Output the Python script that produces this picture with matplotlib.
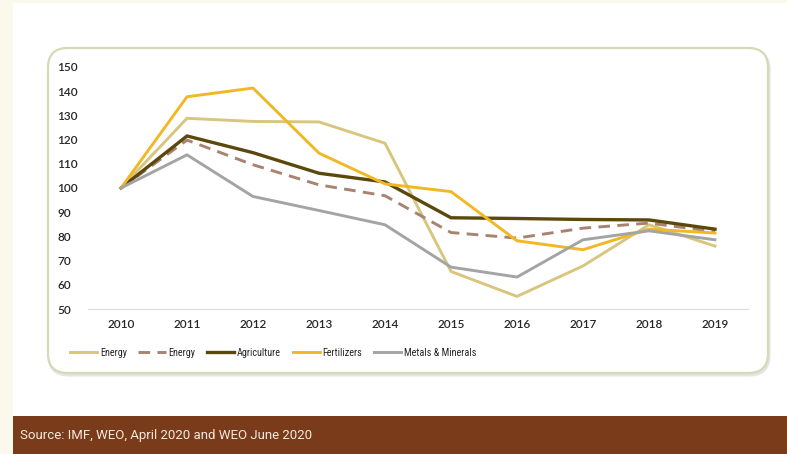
import matplotlib.pyplot as plt
from matplotlib.patches import FancyBboxPatch, Rectangle

years = [2010, 2011, 2012, 2013, 2014, 2015, 2016, 2017, 2018, 2019]
energy_a = [100, 128.8, 127.5, 127.3, 118.5, 65.5, 55.2, 67.8, 84.8, 76]
energy_b = [100, 119.8, 109.6, 101.3, 96.8, 81.6, 79.3, 83.4, 85.5, 82]
agriculture = [100, 121.5, 114.6, 106.1, 102.5, 87.7, 87.4, 87, 86.8, 83]
fertilizers = [100, 137.7, 141.3, 114.4, 101.7, 98.5, 78.2, 74.5, 83, 81.4]
metals = [100, 113.7, 96.5, 90.7, 84.8, 67.3, 63.2, 78.6, 82.3, 78.6]
yticks = [50, 60, 70, 80, 90, 100, 110, 120, 130, 140, 150]

W, H = 787, 454
fig = plt.figure(figsize=(W / 100, H / 100), dpi=100, facecolor="#fbf8ec")

def px(x, y, w, h):
    # pixel box (top-left origin) -> figure fraction
    return (x / W, 1 - (y + h) / H, w / W, h / H)

# white card, brown footer
fig.patches.append(Rectangle(px(13, 3, 774, 414)[:2], 774 / W, 414 / H,
                             transform=fig.transFigure, facecolor="white",
                             edgecolor="none", zorder=-3))
fig.patches.append(Rectangle(px(13, 416, 774, 38)[:2], 774 / W, 38 / H,
                             transform=fig.transFigure, facecolor="#7a3b1a",
                             edgecolor="none", zorder=-3))
fig.text(20 / W, 1 - 436 / H, "Source: IMF, WEO, April 2020 and WEO June 2020",
         color="#f3e9df", fontsize=9.5, family=["Roboto", "DejaVu Sans"],
         va="center", ha="left")

# rounded frame around the chart, with a faint drop shadow
for dx, dy, ec, lw_, z in [(1, 2, "#e4e4e0", 2.2, -2.5), (0, 0, "#d6d9b8", 1.6, -2)]:
    bx, by, bw, bh = px(48 + dx, 48 + dy, 720, 325)
    fig.patches.append(FancyBboxPatch((bx, by), bw, bh,
                                      boxstyle="round,pad=0,rounding_size=0.025",
                                      transform=fig.transFigure, facecolor="white",
                                      edgecolor=ec, linewidth=lw_, zorder=z,
                                      mutation_aspect=W / H))

ax = fig.add_axes(px(88, 67, 660, 242))
ax.set_facecolor("none")

lw = 2.1
ax.plot(years, energy_a, color="#d8c67f", lw=lw, label="Energy")
ax.plot(years, energy_b, color="#a98371", lw=lw, ls=(0, (4, 2.5)), label="Energy")
ax.plot(years, agriculture, color="#5b480c", lw=lw + 0.3, label="Agriculture")
ax.plot(years, fertilizers, color="#f1b826", lw=lw, label="Fertilizers")
ax.plot(years, metals, color="#a4a4a4", lw=lw, label="Metals & Minerals")

ax.set_xlim(2009.5, 2019.5)
ax.set_ylim(50, 150)
ax.set_xticks(years)
ax.set_yticks(yticks)
for s in ["top", "right", "left"]:
    ax.spines[s].set_visible(False)
ax.spines["bottom"].set_color("#dcdcdc")
ax.spines["bottom"].set_linewidth(0.8)
ax.tick_params(length=0, labelsize=8.5, labelcolor="#262626")
ax.tick_params(axis="y", pad=22)
ax.tick_params(axis="x", pad=7)
for t in ax.get_yticklabels() + ax.get_xticklabels():
    t.set_family(["Lato", "DejaVu Sans"])
    t.set_fontweight("semibold")
for t in ax.get_yticklabels():
    t.set_horizontalalignment("left")

leg = fig.legend(loc="center", bbox_to_anchor=(273 / W, 1 - 353 / H), ncol=5,
                 frameon=False, handlelength=2.7,
                 handletextpad=0.25, columnspacing=1.15,
                 prop={"family": ["Roboto Condensed", "Roboto", "DejaVu Sans"],
                       "size": 7.3})
for t in leg.get_texts():
    t.set_color("#262626")

fig.savefig("out.png", dpi=100, facecolor=fig.get_facecolor())
